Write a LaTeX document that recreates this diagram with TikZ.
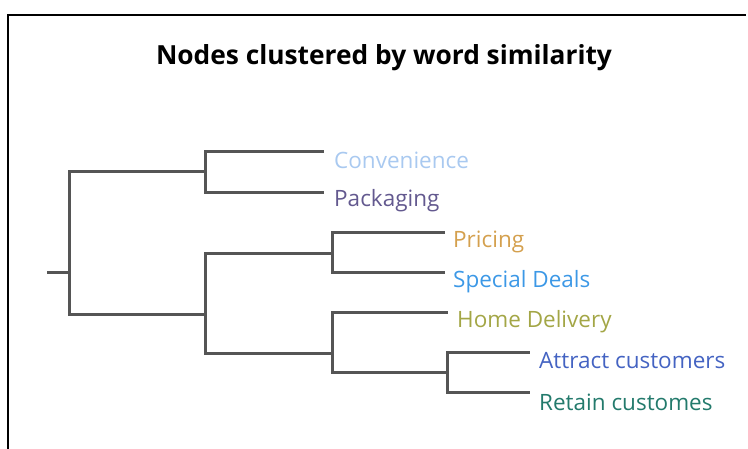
\documentclass[tikz,border=0pt]{standalone}
\usepackage{fontspec}
\setmainfont{Open Sans}
\definecolor{branch}{HTML}{555555}
\definecolor{cConv}{HTML}{A9C9F0}
\definecolor{cPack}{HTML}{63598F}
\definecolor{cPric}{HTML}{D4A04E}
\definecolor{cDeal}{HTML}{3C98E6}
\definecolor{cHome}{HTML}{A3A646}
\definecolor{cAttr}{HTML}{4463C2}
\definecolor{cRet}{HTML}{237A6C}
\tikzset{
  br/.style={draw=branch, line width=3pt, line cap=rect},
  leaf/.style={anchor=west, inner sep=0pt, font=\fontsize{22.5}{25}\selectfont},
  ttl/.style={font=\bfseries\fontsize{26.3}{30}\selectfont, inner sep=0pt}
}
\begin{document}
\begin{tikzpicture}[x=1pt,y=-1pt]
\useasboundingbox (0,0) rectangle (748,449);
\draw[line width=2.6pt, black] (8,449) -- (8,15) -- (746,15);
\node[ttl] (title) at (384,58) {Nodes clustered by word similarity};
% joints
\coordinate (r0) at (48,273);
\coordinate (rm) at (69,273);
\coordinate (rt) at (69,172);
\coordinate (rb) at (69,315);
\coordinate (a) at (205,172);
\coordinate (at) at (205,152);
\coordinate (ab) at (205,193);
\coordinate (b) at (205,315);
\coordinate (bt) at (205,254);
\coordinate (bb) at (205,354);
\coordinate (c) at (332,254);
\coordinate (ct) at (332,233);
\coordinate (cb) at (332,273);
\coordinate (d) at (332,354);
\coordinate (dt) at (332,313);
\coordinate (db) at (332,373);
\coordinate (e) at (447,373);
\coordinate (et) at (447,353);
\coordinate (eb) at (447,393);
% leaf ends
\coordinate (l1) at (322,152);
\coordinate (l2) at (322,193);
\coordinate (l3) at (443,233);
\coordinate (l4) at (443,273);
\coordinate (l5) at (446,313);
\coordinate (l6) at (528,353);
\coordinate (l7) at (528,393);
% labels
\node[leaf, text=cConv] (n1) at (334,160) {Convenience};
\node[leaf, text=cPack] (n2) at (334,201) {Packaging};
\node[leaf, text=cPric] (n3) at (453,242) {Pricing};
\node[leaf, text=cDeal] (n4) at (453,282) {Special Deals};
\node[leaf, text=cHome] (n5) at (457,322) {Home Delivery};
\node[leaf, text=cAttr] (n6) at (539,361) {Attract customers};
\node[leaf, text=cRet] (n7) at (539,402) {Retain customes};
% branches
\draw[br] (r0) -- (rm);
\draw[br] (rt) -- (rb);
\draw[br] (rt) -- (a);
\draw[br] (at) -- (ab);
\draw[br] (at) -- (l1);
\draw[br] (ab) -- (l2);
\draw[br] (rb) -- (b);
\draw[br] (bt) -- (bb);
\draw[br] (bt) -- (c);
\draw[br] (ct) -- (cb);
\draw[br] (ct) -- (l3);
\draw[br] (cb) -- (l4);
\draw[br] (bb) -- (d);
\draw[br] (dt) -- (db);
\draw[br] (dt) -- (l5);
\draw[br] (db) -- (e);
\draw[br] (et) -- (eb);
\draw[br] (et) -- (l6);
\draw[br] (eb) -- (l7);
\end{tikzpicture}
\end{document}
